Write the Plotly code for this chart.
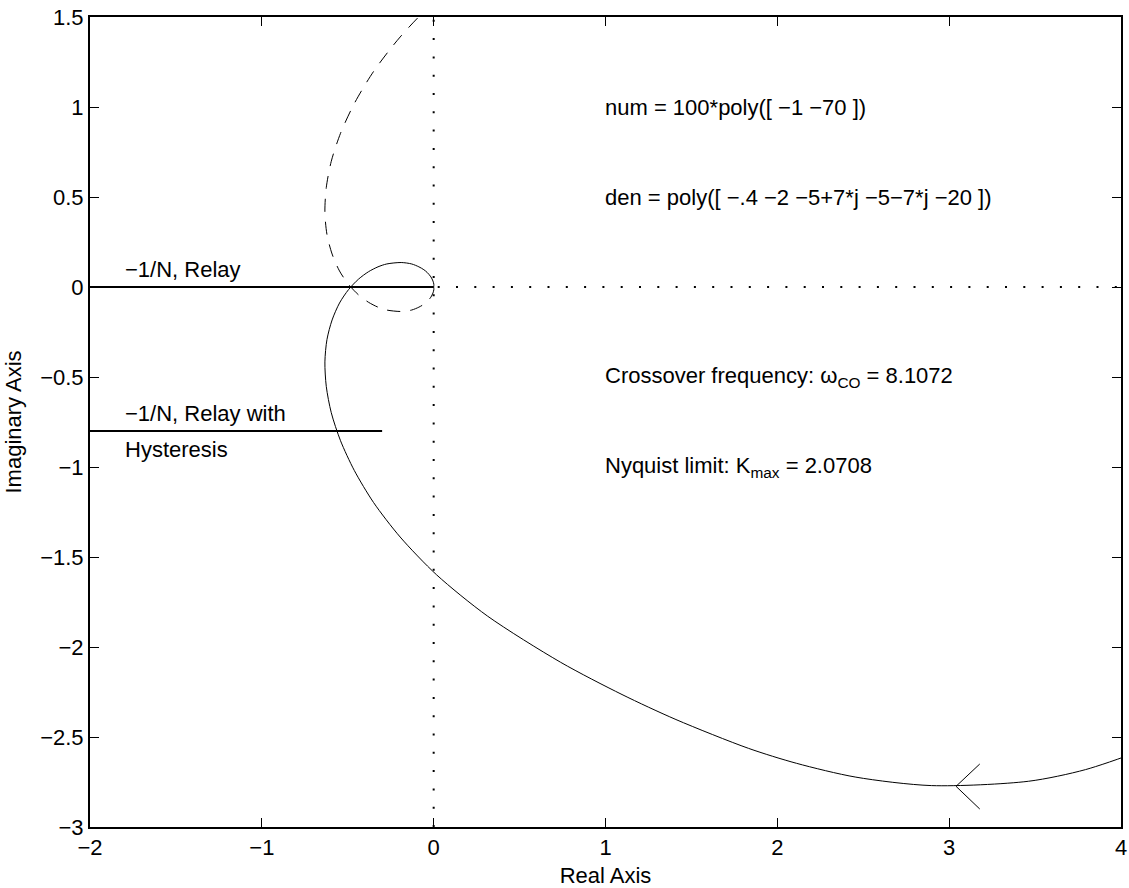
import plotly.graph_objects as go

# Nyquist branch for positive frequencies
nyq_re = [4.159, 3.794, 3.461, 2.898, 2.457, 2.111, 1.832, 1.410, 1.096, 0.739,
          0.313, 0.017, -0.195, -0.350, -0.462, -0.542, -0.596, -0.625, -0.633,
          -0.621, -0.591, -0.548, -0.495, -0.437, -0.379, -0.324, -0.273, -0.189,
          -0.128, -0.086, -0.057, -0.038, -0.016, -0.004, 0.001, 0.001, 0.0]
nyq_im = [-2.562, -2.681, -2.746, -2.770, -2.723, -2.646, -2.563, -2.403, -2.264,
          -2.085, -1.828, -1.599, -1.389, -1.197, -1.019, -0.854, -0.698, -0.552,
          -0.416, -0.292, -0.183, -0.089, -0.014, 0.044, 0.085, 0.112, 0.128,
          0.136, 0.128, 0.112, 0.096, 0.081, 0.056, 0.033, 0.015, 0.008, 0.0]

# Negative-frequency (dashed) branch
neg_re = [0.0, 0.001, 0.001, -0.004, -0.016, -0.038, -0.057, -0.086, -0.128, -0.189,
          -0.273, -0.324, -0.379, -0.437, -0.495, -0.548, -0.591, -0.621, -0.633,
          -0.625, -0.596, -0.542, -0.462, -0.350, -0.195, 0.017, 0.313]
neg_im = [0.0, -0.008, -0.015, -0.033, -0.056, -0.081, -0.096, -0.112, -0.128, -0.136,
          -0.128, -0.112, -0.085, -0.044, 0.014, 0.089, 0.183, 0.292, 0.416,
          0.552, 0.698, 0.854, 1.019, 1.197, 1.389, 1.599, 1.828]

# Direction arrow on the curve
arrow_re = [3.178, 3.040, 3.178]
arrow_im = [-2.650, -2.774, -2.900]

# Describing-function lines
relay_re = [-2.0, 0.0]
relay_im = [0.0, 0.0]
hyst_re = [-2.0, -0.3]
hyst_im = [-0.8, -0.8]

x_ticks = [-2, -1, 0, 1, 2, 3, 4]
x_labels = ["\u22122", "\u22121", "0", "1", "2", "3", "4"]
y_ticks = [-3, -2.5, -2, -1.5, -1, -0.5, 0, 0.5, 1, 1.5]
y_labels = ["\u22123", "\u22122.5", "\u22122", "\u22121.5", "\u22121", "\u22120.5",
            "0", "0.5", "1", "1.5"]

notes = [
    (-1.81, 0.1, "\u22121/N, Relay"),
    (-1.81, -0.7, "\u22121/N, Relay with"),
    (-1.81, -0.9, "Hysteresis"),
    (0.985, 1.0, "num = 100*poly([ \u22121 \u221270 ])"),
    (0.985, 0.5, "den = poly([ \u2212.4 \u22122 \u22125+7*j \u22125\u22127*j \u221220 ])"),
    (0.985, -0.5, "Crossover frequency: \u03c9<sub>CO</sub> = 8.1072"),
    (0.985, -1.0, "Nyquist limit: K<sub>max</sub> = 2.0708"),
]

FONT = "Liberation Sans, Arial, Helvetica, sans-serif"
FS = 22

fig = go.Figure()

# dotted axes through origin
fig.add_trace(go.Scatter(x=[0, 0], y=[-3, 1.5], mode="lines",
                         line=dict(color="black", width=2, dash="2px,16.3px"),
                         showlegend=False, hoverinfo="skip"))
fig.add_trace(go.Scatter(x=[-2, 4], y=[0, 0], mode="lines",
                         line=dict(color="black", width=2, dash="2px,16.3px"),
                         showlegend=False, hoverinfo="skip"))

fig.add_trace(go.Scatter(x=relay_re, y=relay_im, mode="lines",
                         line=dict(color="black", width=2), showlegend=False))
fig.add_trace(go.Scatter(x=hyst_re, y=hyst_im, mode="lines",
                         line=dict(color="black", width=2), showlegend=False))

fig.add_trace(go.Scatter(x=neg_re, y=neg_im, mode="lines",
                         line=dict(color="black", width=1, dash="13px,10px",
                                   shape="spline", smoothing=0.8),
                         showlegend=False))
fig.add_trace(go.Scatter(x=nyq_re, y=nyq_im, mode="lines",
                         line=dict(color="black", width=1, shape="spline", smoothing=0.8),
                         showlegend=False))
fig.add_trace(go.Scatter(x=arrow_re, y=arrow_im, mode="lines",
                         line=dict(color="black", width=1), showlegend=False))

for xv, yv, txt in notes:
    fig.add_annotation(x=xv, y=yv, text=txt, showarrow=False, xanchor="left",
                       yanchor="middle", font=dict(family=FONT, size=FS, color="black"))

axis_common = dict(showline=True, linecolor="black", linewidth=2, mirror="ticks",
                   ticks="inside", ticklen=9, tickwidth=1, tickcolor="black",
                   showgrid=False, zeroline=False,
                   tickfont=dict(family=FONT, size=FS, color="black"))

fig.update_xaxes(range=[-2, 4], tickvals=x_ticks, ticktext=x_labels,
                 title=dict(text="Real Axis", font=dict(family=FONT, size=FS, color="black"),
                            standoff=9), **axis_common)
fig.update_yaxes(range=[-3, 1.5], tickvals=y_ticks, ticktext=y_labels,
                 title=dict(text="Imaginary Axis", font=dict(family=FONT, size=FS, color="black"),
                            standoff=12), **axis_common)

fig.update_layout(width=1129, height=888, plot_bgcolor="white", paper_bgcolor="white",
                  margin=dict(l=90, r=8, t=17, b=61, autoexpand=False),
                  font=dict(family=FONT, size=FS, color="black"))

fig.write_html("out.html")
